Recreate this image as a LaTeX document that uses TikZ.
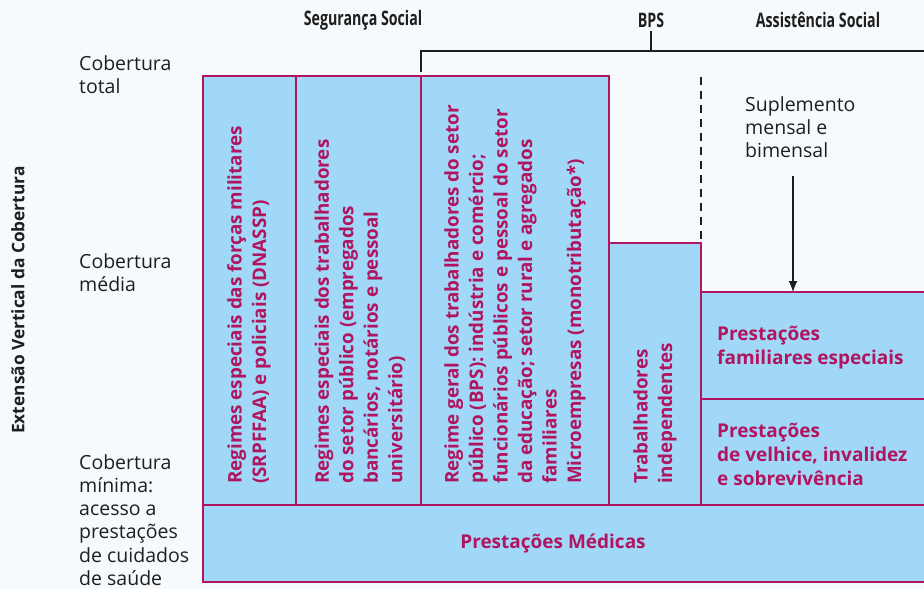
\documentclass[tikz,border=0pt]{standalone}
\usepackage{fontspec}
\setmainfont{Open Sans}
\newfontfamily\headfont{Open Sans}[FakeStretch=0.71]
\usetikzlibrary{arrows.meta}
\tikzset{>={Latex[width=9pt,length=11pt]}}
\definecolor{skyfill}{HTML}{A1D8F8}
\definecolor{crimson}{HTML}{B0155F}
\definecolor{paper}{HTML}{F6FAFD}
\definecolor{ink}{HTML}{1E1E1E}
\tikzset{
  regime/.style={draw=crimson, fill=skyfill, line width=1.3pt},
  vlabel/.style={rotate=90, anchor=west, inner sep=0pt, align=left,
    text=crimson, font=\bfseries\fontsize{18.8}{24.5}\selectfont},
  hlabel/.style={anchor=north west, inner sep=0pt, align=left,
    text=crimson, font=\bfseries\fontsize{19}{24}\selectfont},
  level/.style={anchor=north west, inner sep=0pt, align=left,
    text=ink, font=\fontsize{19.5}{23.3}\selectfont},
  heading/.style={inner sep=0pt, text=ink, font=\headfont\bfseries\fontsize{20}{22}\selectfont}
}

\begin{document}
\begin{tikzpicture}[x=1pt, y=-1pt]

\fill[paper] (0,0) rectangle (924,589);
\useasboundingbox (0,0) rectangle (924,589);

\newcommand\Top{76}
\newcommand\Base{505}

%% blocks (the right ones run past the edge)
\begin{scope}
\clip (0,0) rectangle (924,589);
\draw[regime] (203,\Top) rectangle (296,\Base);
\draw[regime] (296,\Top) rectangle (421,\Base);
\draw[regime] (421,\Top) rectangle (609,\Base);
\draw[regime] (609,243) rectangle (701,\Base);
\draw[regime] (701,292) rectangle (940,399);
\draw[regime] (701,399) rectangle (940,\Base);
\draw[regime] (203,\Base) rectangle (940,582);
\end{scope}

%% column texts, read bottom to top
\node[vlabel] (militares) at (249,484)
  {Regimes especiais das forças militares\\(SRPFFAA) e policiais (DNASSP)};
\node[vlabel] (publico) at (360,484)
  {Regimes especiais dos trabalhadores\\do setor público (empregados\\bancários, notários e pessoal\\universitário)};
\node[vlabel] (geral) at (515,484)
  {Regime geral dos trabalhadores do setor\\público (BPS): indústria e comércio;\\funcionários públicos e pessoal do setor\\da educação; setor rural e agregados\\familiares\\Microempresas (monotributação*)};
\node[vlabel] (indep) at (655,484) {Trabalhadores\\independentes};

\node[hlabel] (famesp) at (717,326) {Prestações\\familiares especiais};
\node[hlabel] (velhice) at (717,423) {Prestações\\de velhice, invalidez\\e sobrevivência};
\node[inner sep=0pt, text=crimson, font=\bfseries\fontsize{19}{24}\selectfont]
  (medicas) at (553,543) {Prestações Médicas};

%% levels of coverage
\node[level] (total) at (79,55) {Cobertura\\total};
\node[level] (media) at (79,253) {Cobertura\\média};
\node[level] (minima) at (79,454)
  {Cobertura\\mínima:\\acesso a\\prestações\\de cuidados\\de saúde};
\node[rotate=90, inner sep=0pt, text=ink, font=\bfseries\fontsize{17.3}{20}\selectfont]
  (eixo) at (18,300) {Extensão Vertical da Cobertura};

%% headings and bracket
\node[heading] (seguranca) at (363,20) {Segurança Social};
\node[heading] (bps) at (651,20) {BPS};
\node[heading] (assist) at (818,20) {Assistência Social};
\coordinate (brL) at (421,51);
\coordinate (brR) at (924,51);
\draw[ink, line width=1.2pt] (421,72) -- (brL) -- (brR);
\draw[ink, line width=1.2pt] (bps.south) ++(0,3) -- (bps.south |- brL);
\draw[ink, line width=1.1pt, dash pattern=on 8pt off 6pt] (701,77) -- (701,243);

%% supplement
\node[level] (suplem) at (745,96) {Suplemento\\mensal e\\bimensal};
\coordinate (supfoot) at (793,176);
\coordinate (famtop) at (793,292);
\draw[->, ink, line width=1.2pt] (supfoot) -- (famtop);

\end{tikzpicture}
\end{document}
